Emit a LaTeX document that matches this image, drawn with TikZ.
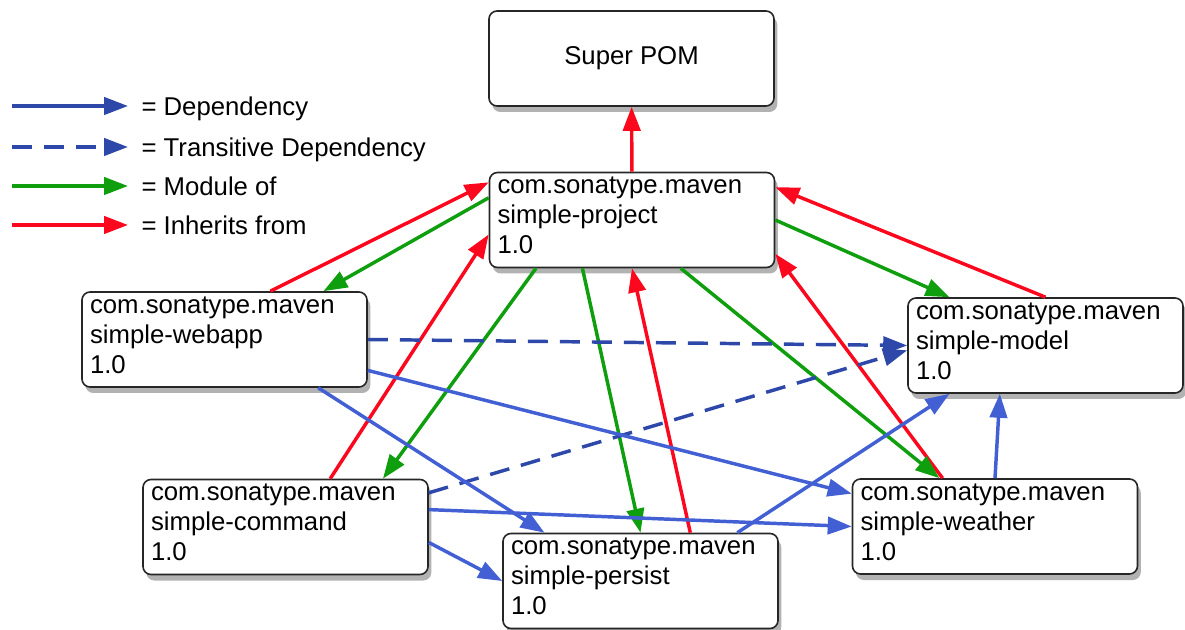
\documentclass[tikz,border=0pt]{standalone}
\usepackage{fontspec}
\setmainfont{Liberation Sans}
\usetikzlibrary{arrows.meta,calc,shadows}

\definecolor{depblue}{RGB}{66,96,212}
\definecolor{trblue}{RGB}{46,72,170}
\definecolor{modgreen}{RGB}{14,158,14}
\definecolor{inhred}{RGB}{252,8,30}

\tikzset{every picture/.style={line width=0.75pt}}
\tikzset{
  boxbase/.style={draw=black!85, line width=1.2pt, fill=white, rounded corners=6pt,
    minimum width=213.75pt, minimum height=71.25pt, font=\fontsize{19.3}{22.5}\selectfont,
    drop shadow={shadow xshift=2.5pt, shadow yshift=-4.5pt, opacity=0.5, fill=black!60}},
  pom/.style={boxbase, text width=201.75pt, inner xsep=6pt, align=left, execute at end node=\strut},
  pomnarrow/.style={pom, minimum width=206.25pt, text width=194.25pt},
  legend/.style={anchor=base west, inner xsep=9.75pt, inner ysep=0pt, font=\fontsize{19.3}{22.5}\selectfont},
  dep/.style={draw=depblue, line width=2.6pt, -{Triangle[length=18pt,width=13pt]}},
  trdep/.style={dep, draw=trblue, dash pattern=on 15pt off 9pt},
  modof/.style={dep, draw=modgreen},
  inh/.style={dep, draw=inhred}
}

\begin{document}
\begin{tikzpicture}[x=0.75pt,y=0.75pt,yscale=-1,xscale=1]
\useasboundingbox (0,0) rectangle (1185,630);

% Boxes
\node (super) [boxbase] at (631.5,58.5) {Super POM};
\node (proj) [pom] at (632,220) {com.sonatype.maven\\simple-project\\1.0};
\node (webapp) [pom] at (224.5,339.5) {com.sonatype.maven\\simple-webapp\\1.0};
\node (model) [pomnarrow] at (1045.5,345.5) {com.sonatype.maven\\simple-model\\1.0};
\node (command) [pom] at (285.5,527) {com.sonatype.maven\\simple-command\\1.0};
\node (persist) [pomnarrow] at (640.5,581) {com.sonatype.maven\\simple-persist\\1.0};
\node (weather) [pom] at (995,526.5) {com.sonatype.maven\\simple-weather\\1.0};

% Legend
\coordinate (ldep0) at (12,106);
\coordinate (ltr0) at (12,147);
\coordinate (lmod0) at (12,186);
\coordinate (linh0) at (12,225);
\node (ldep) [legend] at (128,116) {= Dependency};
\node (ltr) [legend] at (128,157) {= Transitive Dependency};
\node (lmod) [legend] at (128,196) {= Module of};
\node (linh) [legend] at (128,235) {= Inherits from};
\draw [dep, draw=trblue] (ldep0) -- (ldep0 -| ldep.west);
\draw [trdep] (ltr0) -- (ltr0 -| ltr.west);
\draw [modof] (lmod0) -- (lmod0 -| lmod.west);
\draw [inh] (linh0) -- (linh0 -| linh.west);

% Inherits from
\draw [inh] (proj) -- (super);
\draw [inh] ($(webapp.north west)!0.66!(webapp.north east)$) -- ($(proj.north west)!0.11!(proj.south west)$);
\draw [inh] ($(command.north west)!0.656!(command.north east)$) -- ($(proj.north west)!0.65!(proj.south west)$);
\draw [inh] ($(persist.north west)!0.68!(persist.north east)$) -- (proj.south);
\draw [inh] ($(weather.north west)!0.317!(weather.north east)$) -- ($(proj.north east)!0.85!(proj.south east)$);
\draw [inh] (model.north) -- ($(proj.north east)!0.16!(proj.south east)$);

% Module of
\draw [modof] ($(proj.north west)!0.27!(proj.south west)$) -- ($(webapp.north west)!0.845!(webapp.north east)$);
\draw [modof] ($(proj.south west)!0.165!(proj.south east)$) -- ($(command.north west)!0.84!(command.north east)$);
\draw [modof] ($(proj.south west)!0.327!(proj.south east)$) -- (persist.north);
\draw [modof] ($(proj.south west)!0.67!(proj.south east)$) -- ($(weather.north west)!0.306!(weather.north east)$);
\draw [modof] (proj.east) -- ($(model.north west)!0.153!(model.north east)$);

% Transitive dependencies
\draw [trdep] (webapp.east) -- (model.west);
\draw [trdep] ($(command.north east)!0.146!(command.south east)$) -- ($(model.north west)!0.55!(model.south west)$);

% Dependencies
\draw [dep] ($(webapp.south west)!0.827!(webapp.south east)$) -- ($(persist.north west)!0.153!(persist.north east)$);
\draw [dep] ($(webapp.north east)!0.82!(webapp.south east)$) -- ($(weather.north west)!0.16!(weather.south west)$);
\draw [dep] ($(command.north east)!0.32!(command.south east)$) -- (weather.west);
\draw [dep] ($(command.north east)!0.66!(command.south east)$) -- (persist.west);
\draw [dep] ($(persist.north west)!0.85!(persist.north east)$) -- ($(model.south west)!0.153!(model.south east)$);
\draw [dep] (weather.north) -- ($(model.south west)!0.335!(model.south east)$);

\end{tikzpicture}
\end{document}
